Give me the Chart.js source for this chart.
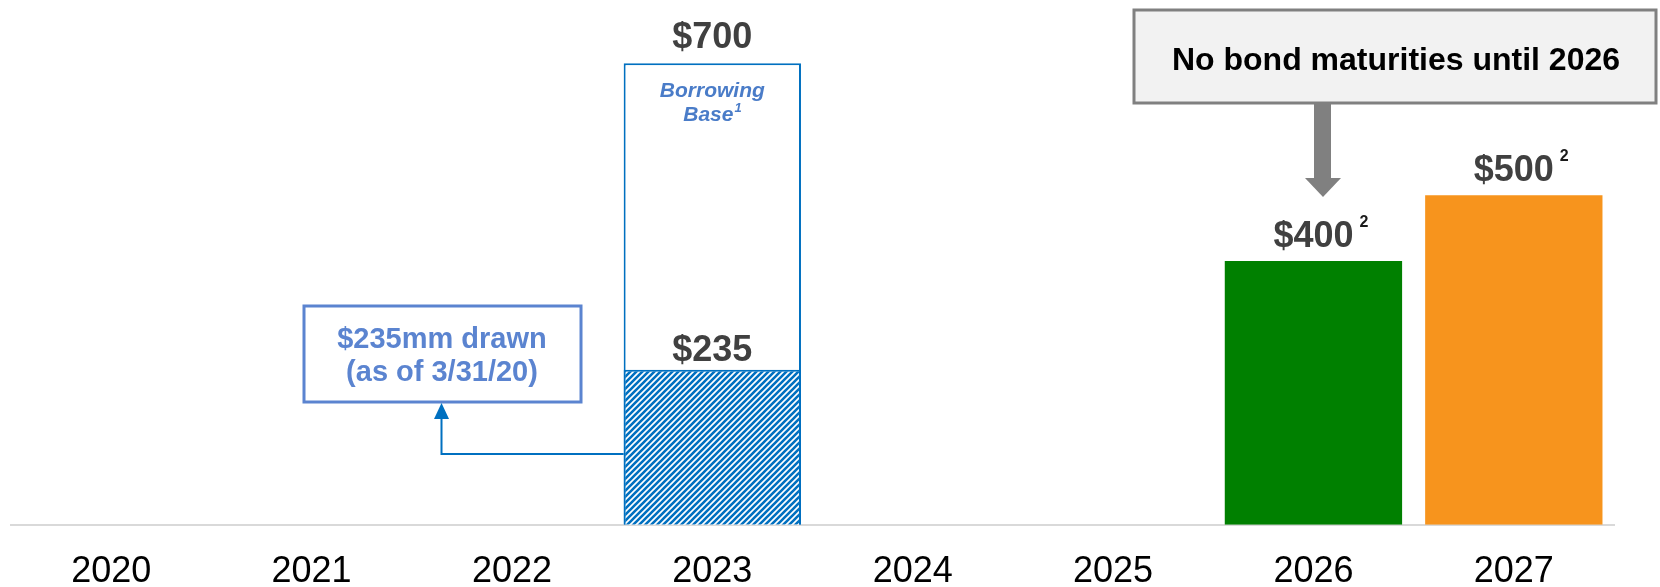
<!DOCTYPE html>
<html>
<head>
<meta charset="utf-8">
<script src="https://cdn.jsdelivr.net/npm/chart.js@4/dist/chart.umd.min.js"></script>
<style>
  html, body { margin: 0; padding: 0; background: #fff; }
  #wrap { width: 1660px; height: 587px; }
</style>
</head>
<body>
<div id="wrap"><canvas id="maturityChart" width="1660" height="587"></canvas></div>
<script>
// maturity profile ($mm)
const years = ['2020', '2021', '2022', '2023', '2024', '2025', '2026', '2027'];
const borrowingBase = [null, null, null, 700, null, null, null, null];
const drawnAmount = [null, null, null, 235, null, null, null, null];
const seniorNotes = [null, null, null, null, null, null, 400, 500];
const notesFootnotes = [null, null, null, null, null, null, '2', '2'];
const notesColors = ['#008000', '#008000', '#008000', '#008000', '#008000', '#008000', '#008000', '#f7941d'];

const FONT = "'Liberation Sans', Arial, Helvetica, sans-serif";
const BLUE = '#0070c0';

// diagonal hatch for the drawn part of the revolver
function hatchPattern(ctx) {
    const s = 6;
    const c = document.createElement('canvas');
    c.width = s; c.height = s;
    const p = c.getContext('2d');
    p.fillStyle = '#fff';
    p.fillRect(0, 0, s, s);
    p.strokeStyle = BLUE;
    p.lineWidth = 2.6;
    p.beginPath();
    p.moveTo(0, s); p.lineTo(s, 0);
    p.moveTo(-2, 2); p.lineTo(2, -2);
    p.moveTo(s - 2, s + 2); p.lineTo(s + 2, s - 2);
    p.stroke();
    return ctx.createPattern(c, 'repeat');
}

// "$value" labels above bars, with optional footnote marks
const valueLabels = {
    id: 'valueLabels',
    afterDatasetsDraw(chart) {
        const ctx = chart.ctx;
        chart.data.datasets.forEach((ds, di) => {
            if (!ds.valueLabel) return;
            const meta = chart.getDatasetMeta(di);
            meta.data.forEach((bar, i) => {
                const v = ds.data[i];
                if (v == null) return;
                const text = '$' + v;
                const base = bar.y - ds.labelOffset;
                ctx.save();
                ctx.font = 'bold 36px ' + FONT;
                ctx.fillStyle = '#404040';
                ctx.textAlign = 'center';
                ctx.textBaseline = 'alphabetic';
                ctx.fillText(text, bar.x, base);
                const note = ds.footnotes && ds.footnotes[i];
                if (note) {
                    const w = ctx.measureText(text).width;
                    ctx.font = 'bold 16px ' + FONT;
                    ctx.fillStyle = '#1a1a1a';
                    ctx.textAlign = 'left';
                    ctx.fillText(note, bar.x + w / 2 + 6, base - 20);
                }
                ctx.restore();
            });
        });
    }
};

// callouts: borrowing base caption, drawn amount box, bond maturity note
const callouts = {
    id: 'callouts',
    afterDraw(chart) {
        const ctx = chart.ctx;
        const baseBar = chart.getDatasetMeta(0).data[3];
        const drawnBar = chart.getDatasetMeta(1).data[3];
        ctx.save();

        // Borrowing Base caption inside the revolver bar
        ctx.fillStyle = '#4a7cc8';
        ctx.textAlign = 'center';
        ctx.textBaseline = 'alphabetic';
        ctx.font = 'italic bold 21px ' + FONT;
        ctx.fillText('Borrowing', baseBar.x, baseBar.y + 34);
        const bw = ctx.measureText('Base').width;
        ctx.fillText('Base', baseBar.x - 4, baseBar.y + 58);
        ctx.font = 'italic bold 13px ' + FONT;
        ctx.textAlign = 'left';
        ctx.fillText('1', baseBar.x - 4 + bw / 2 + 1, baseBar.y + 49);

        // drawn amount box
        ctx.strokeStyle = '#5b84d0';
        ctx.lineWidth = 3;
        ctx.strokeRect(304, 306, 277, 96);
        ctx.fillStyle = '#5b84d0';
        ctx.textAlign = 'center';
        ctx.font = 'bold 29px ' + FONT;
        ctx.fillText('$235mm drawn', 442, 348);
        ctx.fillText('(as of 3/31/20)', 442, 381);

        // elbow arrow from the hatched bar to the box
        const left = drawnBar.x - drawnBar.width / 2;
        ctx.strokeStyle = BLUE;
        ctx.lineWidth = 2;
        ctx.beginPath();
        ctx.moveTo(left, 454);
        ctx.lineTo(441.5, 454);
        ctx.lineTo(441.5, 416);
        ctx.stroke();
        ctx.fillStyle = BLUE;
        ctx.beginPath();
        ctx.moveTo(434, 419);
        ctx.lineTo(449, 419);
        ctx.lineTo(441.5, 403);
        ctx.closePath();
        ctx.fill();

        // bond maturities note
        ctx.fillStyle = '#f2f2f2';
        ctx.fillRect(1134, 10, 522, 93);
        ctx.strokeStyle = '#808080';
        ctx.lineWidth = 3;
        ctx.strokeRect(1134, 10, 522, 93);
        ctx.fillStyle = '#000';
        ctx.font = 'bold 32px ' + FONT;
        ctx.fillText('No bond maturities until 2026', 1396, 70);

        // block arrow down to 2026
        ctx.fillStyle = '#808080';
        ctx.fillRect(1314, 104, 17, 75);
        ctx.beginPath();
        ctx.moveTo(1305, 178);
        ctx.lineTo(1341, 178);
        ctx.lineTo(1323, 197);
        ctx.closePath();
        ctx.fill();

        ctx.restore();
    }
};

const ctx = document.getElementById('maturityChart').getContext('2d');
const chart = new Chart(ctx, {
    type: 'bar',
    data: {
        labels: years,
        datasets: [
            {
                label: 'Borrowing Base',
                data: borrowingBase,
                backgroundColor: '#ffffff',
                borderColor: BLUE,
                borderWidth: 2,
                order: 2,
                valueLabel: true,
                labelOffset: 15
            },
            {
                label: 'Drawn',
                data: drawnAmount,
                backgroundColor: hatchPattern(ctx),
                borderColor: BLUE,
                borderWidth: 2,
                order: 1,
                valueLabel: true,
                labelOffset: 9
            },
            {
                label: 'Senior Notes',
                data: seniorNotes,
                backgroundColor: notesColors,
                borderWidth: 0,
                order: 0,
                valueLabel: true,
                labelOffset: 14,
                footnotes: notesFootnotes
            }
        ]
    },
    options: {
        responsive: false,
        animation: false,
        devicePixelRatio: 1,
        layout: { padding: { left: 11, right: 46, top: 0, bottom: -33 } },
        datasets: {
            bar: { grouped: false, categoryPercentage: 1, barPercentage: 0.885 }
        },
        plugins: {
            legend: { display: false },
            tooltip: { enabled: false }
        },
        scales: {
            x: {
                grid: { display: false, drawTicks: false },
                border: { display: true, color: '#d9d9d9', width: 2 },
                ticks: { color: '#000', padding: 26, font: { family: FONT, size: 36 } }
            },
            y: {
                display: false,
                min: 0,
                max: 796
            }
        }
    },
    plugins: [valueLabels, callouts]
});
</script>
</body>
</html>
